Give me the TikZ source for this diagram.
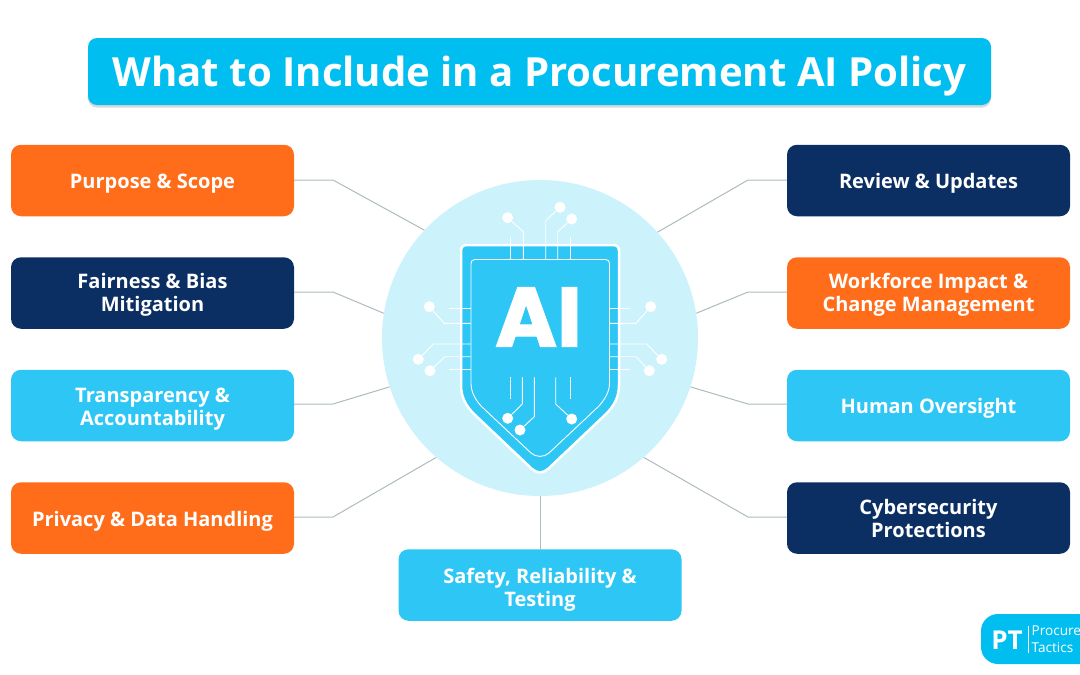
\documentclass[tikz,border=0pt]{standalone}
\usepackage{fontspec}
\setmainfont{Open Sans}
\newfontfamily\aifont[BoldFeatures={FakeBold=1.6}]{Poppins}
\usetikzlibrary{shadows}

\definecolor{mycolor0}{HTML}{FF6D1B}
\definecolor{mycolor1}{HTML}{0B2F63}
\definecolor{mycolor2}{HTML}{2EC6F5}
\definecolor{mycolor3}{HTML}{00BFF0}
\definecolor{mycolor4}{HTML}{CCF2FB}
\definecolor{mycolor5}{HTML}{AEBBBF}

\begin{document}
\begin{tikzpicture}[x=1pt,y=-1pt,
        box/.style={rectangle, rounded corners=10pt, minimum width=283pt, minimum height=71.5pt,
        inner sep=0pt, align=center, text=white, font=\fontsize{20}{23}\selectfont\bfseries,
        execute at begin node={\rule{0pt}{#1}}},
        box/.default=21.2pt,
        link/.style={draw=mycolor5, line width=1pt},
        trace/.style={draw=white, line width=0.9pt},
        pad/.style={circle, fill=white, inner sep=0pt, minimum size=11pt}
        ]
    \useasboundingbox (0,0) rectangle (1080,675);
    \fill[white] (0,0) rectangle (1080,675);

    \node (title) at (539.5,71.5) [rectangle, rounded corners=9pt, fill=mycolor3, minimum width=903pt,
        minimum height=67pt, inner sep=0pt, text=white, font=\fontsize{40.1}{48}\selectfont\bfseries,
        execute at begin node={\rule{0pt}{40.4pt}},
        drop shadow={shadow xshift=0pt, shadow yshift=-2.5pt, opacity=0.3}] {What to Include in a Procurement AI Policy};

    \node (hub) at (540,338) [circle, fill=mycolor4, inner sep=0pt, minimum size=316pt] {};

    \node (q_purpose) at (152.5,180.5) [box, fill=mycolor0] {Purpose \& Scope};
    \node (q_fairness) at (152.5,293) [box=42pt, fill=mycolor1] {Fairness \& Bias\\Mitigation};
    \node (q_transparency) at (152.5,405.5) [box=44pt, fill=mycolor2] {Transparency \&\\Accountability};
    \node (q_privacy) at (152.5,518) [box, fill=mycolor0] {Privacy \& Data Handling};
    \node (q_review) at (928.5,180.5) [box, fill=mycolor1] {Review \& Updates};
    \node (q_workforce) at (928.5,293) [box=42pt, fill=mycolor0] {Workforce Impact \&\\Change Management};
    \node (q_human) at (928.5,405.5) [box, fill=mycolor2] {Human Oversight};
    \node (q_cyber) at (928.5,518) [box, fill=mycolor1] {Cybersecurity\\Protections};
    \node (q_safety) at (540,585) [box=47pt, fill=mycolor2] {Safety, Reliability \&\\Testing};

    \coordinate (b_purpose) at (333,180);
    \coordinate (b_fairness) at (333,292);
    \coordinate (b_transparency) at (333,404);
    \coordinate (b_privacy) at (333,517);
    \coordinate (b_review) at (748,180);
    \coordinate (b_workforce) at (748,292);
    \coordinate (b_human) at (748,404);
    \coordinate (b_cyber) at (748,517);

    \draw [link] (q_purpose.east |- b_purpose) -- (b_purpose) -- (hub.137);
    \draw [link] (q_fairness.east |- b_fairness) -- (b_fairness) -- (hub.171);
    \draw [link] (q_transparency.east |- b_transparency) -- (b_transparency) -- (hub.198);
    \draw [link] (q_privacy.east |- b_privacy) -- (b_privacy) -- (hub.229);
    \draw [link] (q_review.west |- b_review) -- (b_review) -- (hub.42);
    \draw [link] (q_workforce.west |- b_workforce) -- (b_workforce) -- (hub.9);
    \draw [link] (q_human.west |- b_human) -- (b_human) -- (hub.-18);
    \draw [link] (q_cyber.west |- b_cyber) -- (b_cyber) -- (hub.-49);
    \draw [link] (q_safety.north) -- (hub.south);

    % shield
    \draw [draw=white, line width=2.5pt, fill=mycolor2]
        (467,245) -- (613,245) .. controls (617,245) and (619,247) .. (619,251)
        -- (619,385) .. controls (619,396) and (615,405) .. (606,414)
        -- (548,469) .. controls (543,473.5) and (537,473.5) .. (532,469)
        -- (474,414) .. controls (465,405) and (461,396) .. (461,385)
        -- (461,251) .. controls (461,247) and (463,245) .. (467,245) -- cycle;
    \draw [trace]
        (475,259.5) -- (605.5,259.5) .. controls (608,259.5) and (609.5,261) .. (609.5,263.5)
        -- (609.5,383) .. controls (609.5,392) and (605,399) .. (599,406)
        -- (549,453) .. controls (544,457.5) and (536,457.5) .. (531,453)
        -- (481,406) .. controls (475,399) and (471,392) .. (471,383)
        -- (471,263.5) .. controls (471,261) and (472.5,259.5) .. (475,259.5) -- cycle;

    \node (ai_text) at (538.5,317) [text=white, inner sep=0pt, font=\fontsize{84}{84}\aifont\bfseries] {AI};

    % top
    \node (pad_t0) at (507.7,217.7) [pad] {};
    \node (pad_t1) at (560,207.3) [pad] {};
    \node (pad_t2) at (571.7,219) [pad] {};
    \draw [trace] (pad_t0) -- (523.3,231.7) -- (523.3,259);
    \draw [trace] (pad_t1) -- (545.7,220.7) -- (545.7,259);
    \draw [trace] (pad_t2) -- (557.7,231.7) -- (557.7,259);
    \draw [trace] (510,236.7) -- (510,259);
    \draw [trace] (570,236.7) -- (570,259);
    % left
    \node (pad_l0) at (429.3,306.7) [pad] {};
    \node (pad_l1) at (418.3,359.3) [pad] {};
    \node (pad_l2) at (430,370.7) [pad] {};
    \draw [trace] (pad_l0) -- (444.3,323.3) -- (470.7,323.3);
    \draw [trace] (pad_l1) -- (433.3,344) -- (470.7,344);
    \draw [trace] (pad_l2) -- (445,356.7) -- (470.7,356.7);
    \draw [trace] (449.3,308.3) -- (470.7,308.3);
    \draw [trace] (449.3,369) -- (470.7,369);
    % right
    \node (pad_r0) at (650.7,306.7) [pad] {};
    \node (pad_r1) at (661.7,359.3) [pad] {};
    \node (pad_r2) at (649.3,370.7) [pad] {};
    \draw [trace] (pad_r0) -- (636,323.3) -- (609.3,323.3);
    \draw [trace] (pad_r1) -- (646.7,344) -- (609.3,344);
    \draw [trace] (pad_r2) -- (636,356.7) -- (609.3,356.7);
    \draw [trace] (630,308.3) -- (609.3,308.3);
    \draw [trace] (630,369) -- (609.3,369);
    % bottom
    \node (pad_b0) at (507.7,418.3) [pad] {};
    \node (pad_b1) at (520,430) [pad] {};
    \node (pad_b2) at (571.7,419) [pad] {};
    \draw [trace] (pad_b0) -- (522.3,404) -- (522.3,377.3);
    \draw [trace] (pad_b1) -- (534.3,416.7) -- (534.3,377.3);
    \draw [trace] (pad_b2) -- (555.7,404) -- (555.7,377.3);
    \draw [trace] (510,377.3) -- (510,399.3);
    \draw [trace] (570,377.3) -- (570,399.3);

    % logo
    \fill [mycolor3] (1080,614) [rounded corners=17pt] -- (981,614) -- (981,664) [sharp corners] -- (1080,664) -- cycle;
    \node (logo_pt) at (1007,640) [text=white, inner sep=0pt, font=\fontsize{26}{26}\selectfont\bfseries] {PT};
    \node (logo_a) at (1031.5,631) [anchor=west, text=white, inner sep=0pt, font=\fontsize{13.6}{16}\selectfont] {Procure};
    \node (logo_b) at (1031.5,648) [anchor=west, text=white, inner sep=0pt, font=\fontsize{13.6}{16}\selectfont] {Tactics};
    \draw [draw=white, line width=0.7pt] (1028,626) -- (1028,653);
\end{tikzpicture}
\end{document}
